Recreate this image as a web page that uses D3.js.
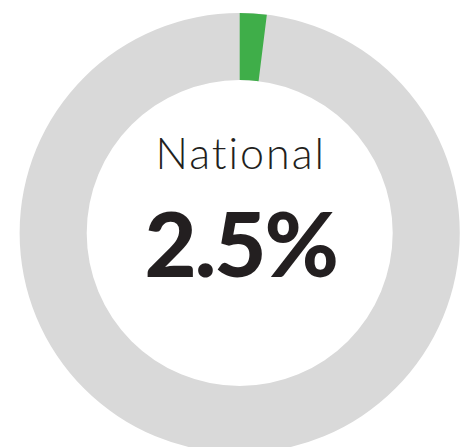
<!DOCTYPE html>
<html>
<head>
<meta charset="utf-8">
<script src="https://cdn.jsdelivr.net/npm/d3@7"></script>
<style>
  body { margin: 0; background: #fff; }
</style>
</head>
<body>
<div id="chart"></div>
<script>
// donut gauge: one value against the full ring
const label = 'National';
const values = [2.5];
const scaleMax = [127]; // value that fills the whole ring

const width = 466, height = 447;
const cx = 239.7, cy = 233;
const outerR = 220, innerR = 153;

const svg = d3.select('#chart').append('svg')
  .attr('width', width)
  .attr('height', height)

const g = svg.append('g')
  .attr('transform', 'translate(' + cx + ',' + cy + ')')

const angle = d3.scaleLinear()
  .domain([0, scaleMax[0]])
  .range([0, 2 * Math.PI])

const arc = d3.arc()
  .innerRadius(innerR)
  .outerRadius(outerR)

// background ring
g.append('path')
  .attr('d', arc({ startAngle: 0, endAngle: 2 * Math.PI }))
  .attr('fill', '#d9d9d9')

g.selectAll('.val')
  .data(values)
  .enter()
  .append('path')
  .attr('class', 'val')
  .attr('d', (d) => arc({ startAngle: 0, endAngle: angle(d) }))
  .attr('fill', '#3fae49')

g.append('text')
  .attr('x', 1)
  .attr('y', 169 - cy)
  .attr('text-anchor', 'middle')
  .style('font-family', 'Lato, sans-serif')
  .style('font-weight', 300)
  .style('font-size', '43px')
  .style('letter-spacing', '2px')
  .style('fill', '#231f20')
  .text(label)

g.append('text')
  .attr('x', 1)
  .attr('y', 277 - cy)
  .attr('text-anchor', 'middle')
  .style('font-family', 'Lato, sans-serif')
  .style('font-weight', 900)
  .style('font-size', '90px')
  .style('letter-spacing', '-2px')
  .style('fill', '#231f20')
  .text(values[0] + '%')
</script>
</body>
</html>
